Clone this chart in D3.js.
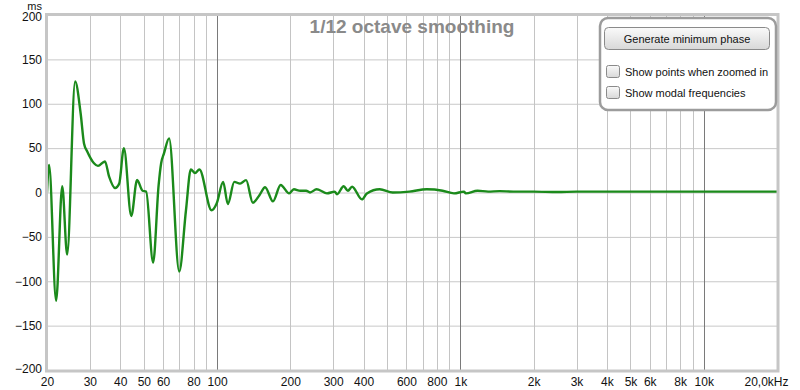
<!DOCTYPE html>
<html>
<head>
<meta charset="utf-8">
<script src="https://cdn.jsdelivr.net/npm/d3@7/dist/d3.min.js"></script>
<style>
  html, body { margin: 0; padding: 0; background: #fff; }
  svg { display: block; }
  text { font-family: "Liberation Sans", Arial, sans-serif; }
</style>
</head>
<body>
<svg id="chart" width="800" height="390"></svg>
<script>
// ---- data ----
const freqs = [20, 20.4, 21.8, 23.1, 24.2, 26.1, 27.5, 28.4, 29.3, 31.2, 32.4, 34.6, 36.0, 38.1, 39.6, 41.4,
  44.4, 46.9, 49.4, 51.1, 54.6, 57.5, 58.9, 60.5, 63.5, 69.9, 74.5, 78.0, 81.2, 84.6, 94.9, 99.7, 105.9,
  110.7, 117.7, 124.3, 131.6, 140.3, 149.3, 157.5, 169.7, 182.5, 197.7, 206.8, 219.8, 232.2, 241, 256.4,
  262.3, 282.8, 304.4, 311.1, 331.4, 344.8, 358.8, 393.7, 412.8, 466, 527, 617, 727, 845, 941, 1034,
  1052, 1176, 1300, 1450, 1650, 2000, 2500, 3000, 4000, 6000, 10000, 20000];
const delays = [0, 31, -122, 7, -70, 125, 89, 55, 46, 33, 30, 35, 18, 5, 10, 50,
  -26.5, 14, 2, 1, -79, 8, 33, 44, 61, -89, -20, 26, 22, 26, -20, -12, 12,
  -13, 12, 10, 14, -11.5, -3, 6, -10, 8.5, -1, 3.6, 2, 2, 0, 3.6,
  3, -1, 1, -2, 7, 2, 6.5, -7.7, -1, 3.6, 0, 1, 3.6, 2, -1, 1,
  -1, 2, 1, 1.5, 1, 1, 0.5, 1, 1, 1, 1, 1];

const yTicks = [200, 150, 100, 50, 0, -50, -100, -150, -200];
const xTickValues = [20, 30, 40, 50, 60, 80, 100, 200, 300, 400, 600, 800, 1000, 2000, 3000, 4000, 5000, 6000, 8000, 10000, 20000];
const xTickLabels = ["20", "30", "40", "50", "60", "80", "100", "200", "300", "400", "600", "800", "1k", "2k", "3k", "4k", "5k", "6k", "8k", "10k", "20,0kHz"];
const minorGrid = [30, 40, 50, 60, 70, 80, 90, 200, 300, 400, 500, 600, 700, 800, 900, 2000, 3000, 4000, 5000, 6000, 7000, 8000, 9000];
const majorGrid = [100, 1000, 10000];

const title = "1/12 octave smoothing";
const yUnit = "ms";
const buttonLabel = "Generate minimum phase";
const checkLabels = ["Show points when zoomed in", "Show modal frequencies"];

// ---- layout ----
const L = 47, R = 777, T = 15, B = 370;
const svg = d3.select("#chart");
const x = d3.scaleLog().domain([20, 20000]).range([L, R]);
const y = d3.scaleLinear().domain([-200, 200]).range([B, T]);

// grid
const g = svg.append("g");
g.selectAll("line.h").data(yTicks).enter().append("line")
  .attr("x1", L).attr("x2", R).attr("y1", d => y(d) + 0.5).attr("y2", d => y(d) + 0.5)
  .attr("stroke", "#c8c8c8").attr("stroke-width", 1);
g.selectAll("line.vm").data(minorGrid).enter().append("line")
  .attr("x1", d => Math.round(x(d)) + 0.5).attr("x2", d => Math.round(x(d)) + 0.5)
  .attr("y1", T).attr("y2", B)
  .attr("stroke", "#c4c4c4").attr("stroke-width", 1);
g.selectAll("line.vM").data(majorGrid).enter().append("line")
  .attr("x1", d => Math.round(x(d)) + 0.5).attr("x2", d => Math.round(x(d)) + 0.5)
  .attr("y1", T).attr("y2", B)
  .attr("stroke", "#7a7a7a").attr("stroke-width", 1);

// title
svg.append("text").attr("x", (L + R) / 2).attr("y", 33).attr("text-anchor", "middle")
  .attr("font-size", 19).attr("font-weight", "bold").attr("fill", "#8a8a8a").text(title);

// curve
svg.append("clipPath").attr("id", "clip").append("rect")
  .attr("x", L).attr("y", T).attr("width", R - L).attr("height", B - T);
const pts = freqs.map((f, i) => [f, delays[i]]);
const line = d3.line().x(d => x(d[0])).y(d => y(d[1])).curve(d3.curveMonotoneX);
svg.append("path").datum(pts).attr("d", line).attr("clip-path", "url(#clip)")
  .attr("fill", "none").attr("stroke", "#1b8a1b").attr("stroke-width", 2.4)
  .attr("stroke-linejoin", "round");

// frame
svg.append("rect").attr("x", L - 0.5).attr("y", T - 0.5).attr("width", R - L + 1.5).attr("height", B - T + 1.5)
  .attr("fill", "none").attr("stroke", "#c6c6c6").attr("stroke-width", 3);

// y axis
const yAxis = d3.axisLeft(y).tickValues(yTicks).tickSize(0).tickPadding(0);
const ya = svg.append("g").attr("transform", `translate(42,0)`).call(yAxis);
ya.select(".domain").remove();
ya.selectAll("text").attr("font-size", 12).attr("fill", "#111")
  .attr("font-family", "Liberation Sans, Arial, sans-serif")
  .attr("dy", d => d === -200 ? "0.22em" : (d === 200 ? "0.45em" : "0.32em"));
svg.append("text").attr("x", 42).attr("y", 9.5).attr("text-anchor", "end")
  .attr("font-size", 11).attr("fill", "#111").text(yUnit);

// x axis
const xAxis = d3.axisBottom(x).tickValues(xTickValues).tickSize(0).tickPadding(0)
  .tickFormat((d, i) => xTickLabels[i]);
const xa = svg.append("g").attr("transform", `translate(0,377)`).call(xAxis);
xa.select(".domain").remove();
xa.selectAll("text").attr("font-size", 12).attr("fill", "#111")
  .attr("font-family", "Liberation Sans, Arial, sans-serif").attr("dy", "0.75em");
xa.selectAll(".tick").filter(d => d === 20000).select("text")
  .attr("text-anchor", "end").attr("x", 11);

// legend panel
const defs = svg.append("defs");
const grad = defs.append("linearGradient").attr("id", "btn").attr("x1", 0).attr("x2", 0).attr("y1", 0).attr("y2", 1);
grad.append("stop").attr("offset", "0%").attr("stop-color", "#fafafa");
grad.append("stop").attr("offset", "100%").attr("stop-color", "#d8d8d8");

const lg = svg.append("g");
lg.append("rect").attr("x", 600).attr("y", 18).attr("width", 176).attr("height", 92).attr("rx", 8)
  .attr("fill", "#fff").attr("stroke", "#9c9c9c").attr("stroke-width", 2.5);
lg.append("rect").attr("x", 604.5).attr("y", 27.5).attr("width", 165).attr("height", 22).attr("rx", 4)
  .attr("fill", "url(#btn)").attr("stroke", "#8a8a8a").attr("stroke-width", 1);
lg.append("text").attr("x", 687).attr("y", 42.5).attr("text-anchor", "middle")
  .attr("font-size", 11).attr("fill", "#111").text(buttonLabel);
checkLabels.forEach((lab, i) => {
  const cy = 65 + i * 21;
  lg.append("rect").attr("x", 606.5).attr("y", cy + 0.5).attr("width", 13).attr("height", 12).attr("rx", 2)
    .attr("fill", "url(#btn)").attr("stroke", "#8a8a8a");
  lg.append("text").attr("x", 625).attr("y", cy + 10.5).attr("font-size", 11).attr("fill", "#111").text(lab);
});
</script>
</body>
</html>
